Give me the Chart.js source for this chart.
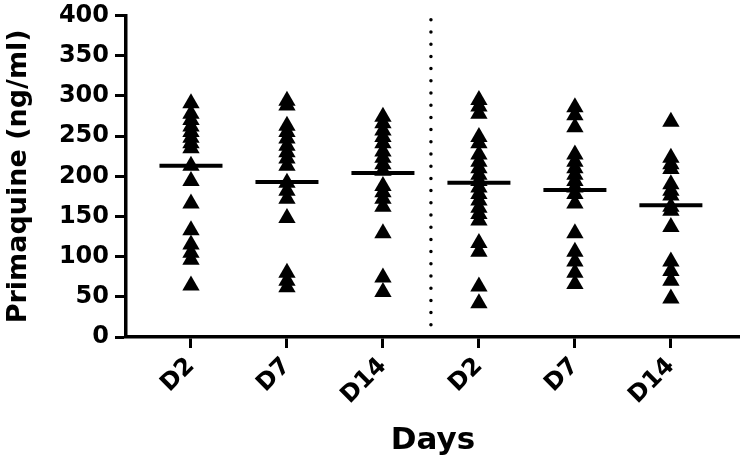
<!DOCTYPE html>
<html>
<head>
<meta charset="utf-8">
<script src="https://cdn.jsdelivr.net/npm/chart.js@4"></script>
<style>
  html, body { margin: 0; padding: 0; background: #fff; }
  #wrap { width: 740px; height: 460px; }
</style>
</head>
<body>
<div id="wrap"><canvas id="dotPlot" width="740" height="460"></canvas></div>
<script>
// Categories on the x axis (two cohorts, separated by the dotted line)
const days = ['D2', 'D7', 'D14', 'D2', 'D7', 'D14'];

// Primaquine concentrations (ng/ml)
const d2First = [291, 278, 270, 262, 255, 248, 241, 235, 213, 194, 166, 133, 115, 105, 96, 64];
const d7First = [294, 288, 263, 255, 247, 238, 230, 222, 213, 192, 182, 172, 148, 80, 70, 62];
const d14First = [274, 266, 257, 249, 241, 231, 223, 215, 207, 188, 180, 172, 162, 129, 74, 56];
const d2Second = [295, 287, 278, 249, 241, 227, 218, 210, 202, 194, 186, 178, 170, 161, 153, 145, 117, 106, 63, 42];
const d7Second = [286, 276, 261, 227, 218, 210, 202, 194, 186, 178, 166, 129, 106, 94, 80, 66];
const d14Second = [268, 223, 215, 209, 190, 182, 176, 162, 157, 137, 94, 82, 70, 48];

// Median bar for each group
const medians = [213, 193, 204, 192, 183, 164];

// Y axis ticks
const yTicks = [0, 50, 100, 150, 200, 250, 300, 350, 400];

const groups = [d2First, d7First, d14First, d2Second, d7Second, d14Second];
const FONT = 'DejaVu Sans';

// One scatter dataset per group, x = position of the category (1..6)
const pointSets = groups.map((values, i) => ({
    type: 'scatter',
    data: values.map(v => ({ x: i + 1, y: v })),
    pointStyle: 'triangle',
    pointRadius: 10,
    pointBorderWidth: 0,
    backgroundColor: '#000',
    borderColor: '#000',
    order: 2,
}));

const medianSet = {
    type: 'scatter',
    data: medians.map((m, i) => ({ x: i + 1, y: m })),
    pointStyle: 'line',
    pointRadius: 31.5,
    pointBorderWidth: 4,
    borderColor: '#000',
    backgroundColor: '#000',
    order: 0,
};

// dotted divider between the two cohorts (halfway between 3rd and 4th category)
const divider = (3 + 4) / 2;
const dividerSet = {
    type: 'line',
    data: [{ x: divider, y: yTicks[0] }, { x: divider, y: yTicks[yTicks.length - 1] }],
    borderColor: '#000',
    borderWidth: 3.5,
    borderDash: [0, 12.2],
    borderCapStyle: 'round',
    pointRadius: 0,
    order: 1,
};

new Chart(document.getElementById('dotPlot'), {
    data: { datasets: [...pointSets, medianSet, dividerSet] },
    options: {
        responsive: false,
        animation: false,
        devicePixelRatio: 1,
        layout: { autoPadding: false, padding: { top: 10, right: 0, bottom: 0, left: 0 } },
        plugins: {
            legend: { display: false },
            tooltip: { enabled: false },
        },
        scales: {
            x: {
                type: 'linear',
                min: 0.323,
                max: 6.72,
                afterBuildTicks: scale => {
                    scale.ticks = days.map((d, i) => ({ value: i + 1 }));
                },
                afterFit: scale => { scale.height = 123; },
                grid: {
                    display: true,
                    drawOnChartArea: false,
                    drawTicks: true,
                    tickLength: 11,
                    tickWidth: 3,
                    tickColor: '#000',
                },
                border: { display: true, color: '#000', width: 3.5 },
                ticks: {
                    autoSkip: false,
                    maxRotation: 45,
                    minRotation: 45,
                    padding: 4,
                    color: '#000',
                    font: { family: FONT, size: 24, weight: 'bold' },
                    callback: value => days[Math.round(value) - 1] || '',
                },
                title: {
                    display: true,
                    text: 'Days',
                    color: '#000',
                    padding: { top: 0, bottom: 0 },
                    font: { family: FONT, size: 31, weight: 'bold' },
                },
            },
            y: {
                type: 'linear',
                min: yTicks[0],
                max: yTicks[yTicks.length - 1],
                afterBuildTicks: scale => {
                    scale.ticks = yTicks.map(v => ({ value: v }));
                },
                afterFit: scale => { scale.width = 126; },
                grid: {
                    display: true,
                    drawOnChartArea: false,
                    drawTicks: true,
                    tickLength: 11,
                    tickWidth: 3,
                    tickColor: '#000',
                },
                border: { display: true, color: '#000', width: 3.5 },
                ticks: {
                    padding: 6,
                    color: '#000',
                    font: { family: FONT, size: 24, weight: 'bold', lineHeight: 0.8 },
                },
                title: {
                    display: true,
                    text: 'Primaquine (ng/ml)',
                    color: '#000',
                    padding: { top: 3, bottom: 0 },
                    font: { family: FONT, size: 27, weight: 'bold' },
                },
            },
        },
    },
});
</script>
</body>
</html>
